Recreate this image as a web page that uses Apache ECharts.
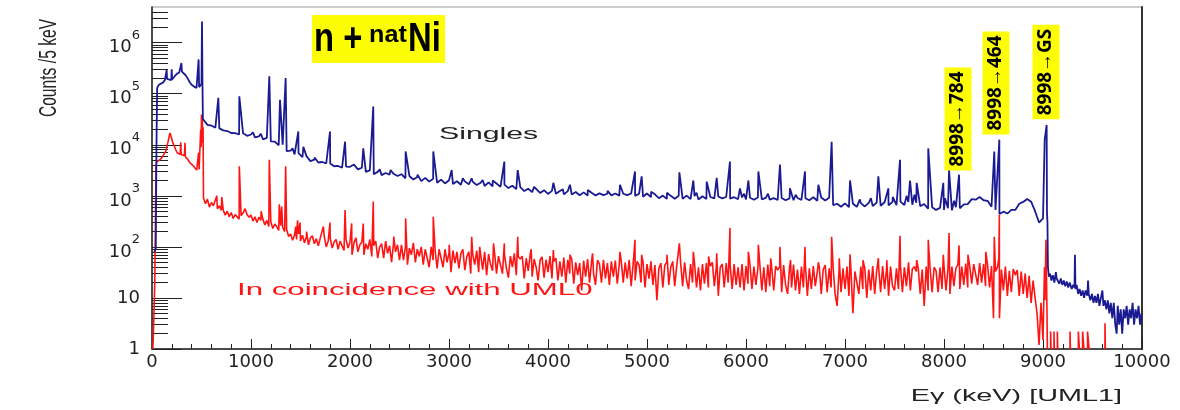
<!DOCTYPE html>
<html>
<head>
<meta charset="utf-8">
<title>n + natNi gamma spectrum</title>
<script src="https://cdn.jsdelivr.net/npm/echarts@6/dist/echarts.min.js"></script>
<style>
  html, body { margin: 0; padding: 0; background: #fff; }
  #chart { width: 1180px; height: 410px; }
</style>
</head>
<body>
<div id="chart"></div>
<script>
// energy axis, keV
const xMin = 0, xMax = 10000, xStep = 1000;
// counts axis (log)
const yMin = 1, yMax = 5e6;
const decadeTicks = [1, 10, 100, 1000, 10000, 100000, 1000000];
const minorTicks = [];
decadeTicks.forEach(d => {
    for (let m = 2; m <= 9; m++) {
        if (d * m < yMax) minorTicks.push(d * m);
    }
});

// ---- Singles (blue), counts / 5 keV ----
// low-energy part [E, counts]
const singlesHead = [
    [22, 80], [38, 90], [45, 9000], [52, 130000], [70, 150000], [90, 148000], [110, 165000], [130, 185000],
    [145, 200000], [148, 290000], [152, 195000], [170, 190000], [195, 185000], [199, 300000], [203, 190000],
    [225, 215000], [250, 245000], [275, 260000], [292, 265000], [297, 400000], [302, 270000], [320, 255000],
    [340, 230000], [360, 200000], [380, 170000], [400, 150000], [425, 138000], [450, 130000], [466, 132000],
    [471, 470000], [476, 135000], [490, 140000], [500, 155000], [505, 2600000], [510, 150000], [514, 32000]
];
// continuum from 520 keV every 40 keV
const singlesStartE = 520, singlesStep = 40;
const singlesCounts = [
    29500, 24500, 23800, 21600, 21000, 19200, 18600, 17000, 16900, 15900,
    16800, 15000, 15900, 13900, 14600, 12800, 13700, 11700, 11500, 9800,
    10000, 7500, 7700, 6500, 6900, 5700, 6000, 4800, 5100, 4500,
    4600, 4300, 4300, 3800, 3850, 3550, 3750, 3700, 4100, 3300,
    3550, 2950, 3150, 2650, 2950, 2550, 2800, 2600, 2700, 2450,
    2650, 2200, 2450, 2080, 2350, 1940, 2250, 1900, 2150, 1800,
    2080, 1750, 2020, 1700, 1930, 1650, 1920, 1680, 1880, 1630,
    1810, 1560, 1830, 1530, 1740, 1500, 1660, 1420, 1580, 1350,
    1480, 1240, 1380, 1180, 1370, 1140, 1290, 1090, 1250, 1100,
    1240, 1070, 1240, 1060, 1190, 1030, 1170, 1010, 1150, 1020,
    1120, 1030, 1100, 1020, 1110, 1010, 1100, 1030, 1110, 1000,
    1100, 960, 1110, 940, 1070, 900, 1010, 870, 1000, 880,
    1000, 870, 1010, 860, 990, 850, 980, 870, 950, 890,
    970, 890, 950, 880, 940, 860, 930, 850, 920, 840,
    930, 850, 910, 840, 900, 830, 910, 820, 890, 820,
    910, 830, 900, 820, 940, 800, 930, 810, 920, 660,
    700, 610, 710, 600, 700, 610, 720, 620, 730, 630,
    740, 640, 750, 650, 760, 660, 770, 660, 760, 670,
    730, 630, 690, 560, 600, 530, 580, 530, 570, 520,
    600, 570, 680, 690, 860, 840, 950, 820, 800, 610,
    530, 440, 490, 450, 530, 530, 700, 760, 870, 770,
    500, 300, 360, 480
];
// peaks sitting on the continuum [E, counts]
const singlesPeaks = [
    [670, 83000], [882, 89000], [1020, 17500], [1100, 16500], [1185, 219000], [1293, 76000], [1310, 76000],
    [1350, 204000], [1420, 8500], [1478, 18200], [1529, 9100], [1642, 5600], [1798, 18200], [1950, 11500],
    [2134, 8500], [2235, 56000], [2300, 3300], [2410, 3200], [2562, 7400], [2682, 2600], [2841, 7400],
    [3027, 3200], [3140, 2200], [3229, 2200], [3340, 2050], [3442, 2000], [3559, 4700], [3694, 3200],
    [3860, 1500], [4054, 1800], [4150, 1350], [4222, 1650], [4402, 1300], [4602, 1250], [4727, 1650],
    [4879, 3000], [4946, 2400], [5042, 1200], [5202, 1150], [5327, 2900], [5468, 2000], [5500, 1150],
    [5603, 1900], [5704, 2250], [5838, 4700], [5939, 1400], [5980, 1100], [6024, 2000], [6125, 3000],
    [6222, 1100], [6343, 4100], [6444, 1400], [6502, 1050], [6596, 3000], [6731, 1650], [6865, 11500],
    [7051, 2000], [7150, 850], [7262, 900], [7337, 2400], [7438, 1400], [7482, 950], [7556, 5100],
    [7622, 1000], [7657, 2000], [7702, 1050], [7724, 1800], [7841, 8500], [7993, 1800], [8010, 900],
    [8051, 3200], [8102, 800], [8152, 2600], [8508, 7400], [8559, 12600], [9017, 12600], [9037, 24500]
];
// above the 8998 keV line
const singlesTail = [
    [9045, 300], [9050, 40], [9060, 26], [9072, 30], [9085, 22], [9100, 28], [9115, 20], [9130, 32], [9138, 24],
    [9150, 26], [9165, 19], [9180, 24], [9195, 18], [9210, 22], [9225, 17], [9240, 21], [9255, 16], [9270, 20],
    [9290, 15], [9305, 18], [9318, 16], [9323, 70], [9328, 15], [9340, 18], [9355, 12], [9370, 15], [9385, 11],
    [9400, 14], [9415, 10], [9430, 14], [9448, 11], [9455, 22], [9462, 12], [9478, 9], [9495, 12], [9510, 8],
    [9525, 11], [9540, 8], [9555, 12], [9570, 7], [9585, 10], [9600, 14], [9610, 7], [9625, 9], [9640, 6],
    [9655, 9], [9670, 5], [9685, 8], [9700, 4], [9715, 8], [9730, 3], [9744, 2], [9755, 7], [9770, 3],
    [9785, 6], [9800, 2], [9815, 6], [9830, 4], [9845, 7], [9860, 3], [9875, 6], [9890, 4], [9905, 8],
    [9920, 3], [9935, 6], [9950, 4], [9965, 7], [9980, 3], [9995, 5]
];

// ---- In coincidence with UML0 (red) ----
const coincHead = [
    [8, 1], [14, 2], [20, 5], [28, 20], [34, 200], [40, 4000], [50, 4700], [65, 4300], [80, 5100], [100, 5600],
    [120, 6500], [140, 7500], [160, 11000], [175, 15000], [182, 17000], [195, 14000], [210, 11000], [225, 9500],
    [240, 8000], [255, 6900], [270, 7200], [285, 6500], [290, 11200], [295, 6400], [315, 6000], [328, 6200],
    [333, 11000], [338, 5800], [360, 5200], [384, 4400], [410, 4000], [430, 3600], [451, 3200], [466, 3300],
    [471, 7000], [476, 3300], [488, 3500], [492, 20000], [496, 9000], [500, 39000], [504, 14000], [508, 33000],
    [512, 11000], [516, 22000]
];
// continuum from 520 keV every 20 keV
const coincStartE = 520, coincStep = 20;
const coincCounts = [
    900, 700, 860, 600, 740, 640, 690, 560, 640, 520,
    520, 420, 500, 390, 470, 360, 430, 400, 350, 410,
    460, 560, 430, 380, 420, 320, 390, 300, 380, 330,
    350, 270, 330, 250, 310, 230, 280, 250, 210, 260,
    240, 200, 220, 160, 180, 135, 170, 140, 180, 130,
    170, 120, 160, 110, 150, 165, 115, 145, 105, 150,
    140, 160, 100, 130, 150, 95, 125, 140, 90, 130,
    130, 85, 140, 95, 125, 70, 120, 150, 80, 110,
    125, 70, 115, 90, 140, 65, 105, 130, 60, 100,
    115, 60, 130, 75, 105, 50, 120, 80, 110, 55,
    110, 55, 100, 45, 95, 70, 120, 50, 90, 65,
    100, 45, 90, 60, 40, 100, 55, 85, 38, 90,
    85, 40, 90, 50, 75, 32, 85, 48, 80, 38,
    75, 90, 35, 65, 80, 30, 70, 45, 85, 32,
    70, 36, 80, 28, 72, 45, 34, 78, 30, 66,
    62, 30, 72, 38, 25, 66, 40, 75, 28, 64,
    58, 66, 24, 60, 34, 70, 26, 58, 40, 22,
    55, 64, 25, 56, 32, 66, 24, 52, 60, 22,
    52, 26, 62, 20, 56, 30, 58, 19, 50, 28,
    48, 14, 54, 26, 58, 20, 52, 30, 18, 55,
    46, 20, 56, 24, 48, 18, 52, 26, 54, 19,
    46, 52, 20, 50, 24, 56, 17, 46, 22, 52,
    44, 20, 50, 16, 46, 24, 52, 18, 44, 9,
    38, 48, 16, 44, 50, 18, 40, 52, 17, 42,
    40, 48, 17, 50, 22, 15, 46, 20, 48, 16,
    40, 14, 46, 19, 48, 16, 42, 50, 17, 40,
    11, 40, 46, 16, 48, 20, 44, 15, 46, 18,
    40, 16, 46, 14, 42, 19, 46, 15, 41, 18,
    38, 44, 14, 40, 13, 45, 17, 39, 14, 42,
    35, 41, 13, 44, 18, 12, 40, 16, 45, 14,
    36, 12, 41, 16, 44, 11, 38, 15, 42, 17,
    32, 41, 12, 36, 44, 13, 38, 16, 40, 12,
    7, 35, 13, 38, 15, 41, 11, 36, 5, 33,
    35, 12, 41, 15, 38, 10, 36, 14, 42, 12,
    34, 40, 13, 42, 15, 37, 11, 41, 17, 14,
    38, 15, 42, 13, 40, 17, 45, 14, 37, 41,
    33, 38, 12, 36, 7, 41, 14, 37, 13, 40,
    34, 13, 40, 15, 42, 14, 37, 12, 41, 17,
    38, 45, 15, 41, 18, 47, 16, 42, 19, 46,
    44, 18, 48, 20, 46, 17, 45, 16, 42, 4,
    33, 40, 4, 36, 14, 41, 11, 34, 13, 37,
    28, 35, 11, 33, 12, 30, 10, 27, 8, 22,
    10, 5, 1.2, 8, 1.5, 9, 6
];
const coincPeaks = [
    [655, 1000], [705, 950], [882, 3800], [1102, 500], [1185, 5100], [1286, 680], [1310, 620], [1350, 3800],
    [1452, 250], [1470, 330], [1495, 300], [1562, 200], [1731, 250], [1798, 300], [1950, 525], [2017, 288],
    [2134, 288], [2235, 776], [2442, 160], [2562, 363], [2841, 390], [3002, 110], [3229, 158], [3310, 100],
    [3450, 117], [3559, 117], [3694, 158], [3830, 90], [4054, 87], [4222, 70], [4450, 75], [4727, 80],
    [4879, 138], [4946, 70], [5202, 70], [5327, 117], [5468, 80], [5622, 65], [5704, 75], [5838, 235],
    [6024, 80], [6125, 110], [6250, 60], [6343, 100], [6450, 55], [6596, 100], [6731, 50], [6865, 158],
    [6942, 60], [7051, 72], [7182, 55], [7337, 60], [7422, 55], [7556, 166], [7642, 50], [7724, 55],
    [7841, 138], [7993, 70], [8051, 186], [8152, 107], [8242, 70], [8422, 80], [8508, 158], [8554, 60],
    [8559, 427], [9015, 40], [9030, 138]
];
// above 9040 keV mostly empty bins (null), a few single counts
const coincTail = [
    [9044, 1], [9045, null],
    [9077, 1], [9077, 2.2], [9081, 2.2], [9081, 1], [9082, null],
    [9111, 1], [9111, 2.2], [9115, 2.2], [9115, 1], [9116, null],
    [9145, 1], [9145, 2.2], [9149, 2.2], [9149, 1], [9150, null],
    [9273, 1], [9273, 2.2], [9277, 2.2], [9277, 1], [9278, null],
    [9357, 1], [9357, 2.2], [9368, 2.2], [9368, 1], [9369, null],
    [9400, 1], [9400, 2.2], [9414, 2.2], [9414, 1], [9415, null],
    [9450, 1], [9450, 2.2], [9466, 2.2], [9466, 1], [9467, null],
    [9626, 1], [9626, 3.2], [9630, 3.2], [9630, 1], [9631, null]
];

const transitionLabels = ['8998→784', '8998→464', '8998→GS'];

function buildSeries(head, startE, step, counts, peaks, tail) {
    let pts = counts.map((c, i) => [startE + i * step, c]).concat(peaks);
    pts.sort((a, b) => a[0] - b[0]);
    return head.concat(pts, tail);
}
const singles = buildSeries(singlesHead, singlesStartE, singlesStep, singlesCounts, singlesPeaks, singlesTail);
const coinc = buildSeries(coincHead, coincStartE, coincStep, coincCounts, coincPeaks, coincTail);

const axisFont = 'DejaVu Sans';
const axisColor = '#222';
const yellow = '#fdfd06';
const chart = echarts.init(document.getElementById('chart'));

function decadeLabel(v) {
    const k = Math.round(Math.log10(v));
    if (k === 0) return '1';
    if (k === 1) return '10';
    return '{b|10}{s|' + k + '}';
}

chart.setOption({
    animation: false,
    grid: { left: 152, right: 38, top: 7, bottom: 61, show: true, borderColor: '#999', borderWidth: 1 },
    xAxis: {
        type: 'value', min: xMin, max: xMax, interval: xStep,
        axisLine: { lineStyle: { color: axisColor, width: 1.5 } },
        axisTick: { inside: true, length: 10, lineStyle: { color: axisColor, width: 1 } },
        minorTick: { show: true, splitNumber: 5, length: 5, lineStyle: { color: axisColor, width: 1 } },
        splitLine: { show: false },
        axisLabel: { margin: 4, fontFamily: axisFont, fontSize: 18, color: axisColor, formatter: v => String(v) }
    },
    yAxis: [
        {
            type: 'log', logBase: 10, min: yMin, max: yMax, position: 'left',
            axisLine: { show: true, lineStyle: { color: axisColor, width: 1.5 } },
            axisTick: { show: true, inside: true, length: 30, customValues: decadeTicks, lineStyle: { color: axisColor } },
            axisLabel: {
                customValues: decadeTicks, margin: 12, formatter: decadeLabel,
                fontFamily: axisFont, fontSize: 18, color: axisColor,
                rich: {
                    b: { fontFamily: axisFont, fontSize: 18, color: axisColor, lineHeight: 28, verticalAlign: 'bottom' },
                    s: { fontFamily: axisFont, fontSize: 13, color: axisColor, lineHeight: 13, verticalAlign: 'top' }
                }
            },
            splitLine: { show: false }
        },
        {
            type: 'log', logBase: 10, min: yMin, max: yMax, position: 'left',
            axisLine: { show: false },
            axisTick: { show: true, inside: true, length: 16, customValues: minorTicks, lineStyle: { color: axisColor } },
            axisLabel: { show: false },
            splitLine: { show: false }
        },
        {
            type: 'log', logBase: 10, min: yMin, max: yMax, position: 'right',
            axisLine: { show: true, lineStyle: { color: '#333', width: 2 } },
            axisTick: { show: false }, axisLabel: { show: false }, splitLine: { show: false }
        }
    ],
    series: [
        {
            name: 'Singles', type: 'line', data: singles, symbol: 'none', showSymbol: false,
            lineStyle: { color: '#1a1a92', width: 1.8 }, z: 3
        },
        {
            name: 'In coincidence with UML0', type: 'line', data: coinc, symbol: 'none', showSymbol: false,
            connectNulls: false, lineStyle: { color: '#ff1414', width: 1.6 }, z: 2
        }
    ],
    graphic: [
        // reaction title
        { type: 'rect', shape: { x: 312, y: 15, width: 133, height: 48 }, style: { fill: yellow }, z: 10 },
        { type: 'text', x: 314, y: 40, scaleX: 0.82, z: 11,
          style: { text: 'n +', fontSize: 40, fontWeight: 'bold', fontFamily: 'Liberation Sans', fill: '#000', verticalAlign: 'middle' } },
        { type: 'text', x: 369, y: 35, scaleX: 1.05, z: 11,
          style: { text: 'nat', fontSize: 24, fontWeight: 'bold', fontFamily: 'Liberation Sans', fill: '#000', verticalAlign: 'middle' } },
        { type: 'text', x: 408, y: 40, scaleX: 0.82, z: 11,
          style: { text: 'Ni', fontSize: 40, fontWeight: 'bold', fontFamily: 'Liberation Sans', fill: '#000', verticalAlign: 'middle' } },
        // series labels
        { type: 'text', x: 439, y: 134, scaleX: 1.78, z: 11,
          style: { text: 'Singles', fontSize: 17, fontFamily: 'Liberation Sans', fill: '#222', verticalAlign: 'middle' } },
        { type: 'text', x: 237, y: 291, scaleX: 1.95, z: 11,
          style: { text: 'In coincidence with UML0', fontSize: 16, fontFamily: 'Liberation Sans', fill: '#ff1414', verticalAlign: 'middle' } },
        // transition labels
        { type: 'text', x: 958, y: 119, rotation: Math.PI / 2, z: 11,
          style: { text: transitionLabels[0], fontSize: 19, fontWeight: 'bold', fontFamily: 'Open Sans', fill: '#000',
                   align: 'center', verticalAlign: 'middle', backgroundColor: yellow, padding: [4, 4] } },
        { type: 'text', x: 996, y: 83, rotation: Math.PI / 2, z: 11,
          style: { text: transitionLabels[1], fontSize: 19, fontWeight: 'bold', fontFamily: 'Open Sans', fill: '#000',
                   align: 'center', verticalAlign: 'middle', backgroundColor: yellow, padding: [4, 4] } },
        { type: 'text', x: 1046, y: 72, rotation: Math.PI / 2, z: 11,
          style: { text: transitionLabels[2], fontSize: 19, fontWeight: 'bold', fontFamily: 'Open Sans', fill: '#000',
                   align: 'center', verticalAlign: 'middle', backgroundColor: yellow, padding: [4, 4] } },
        // axis titles
        { type: 'text', x: 50, y: 68, rotation: Math.PI / 2, scaleX: 0.68, z: 11,
          style: { text: 'Counts /5 keV', fontSize: 23, fontFamily: 'Liberation Sans', fill: '#222', align: 'center', verticalAlign: 'middle' } },
        { type: 'text', x: 1122, y: 397, scaleX: 1.8, z: 11,
          style: { text: 'Eγ (keV) [UML1]', fontSize: 16, fontFamily: 'Liberation Sans', fill: '#222', align: 'right', verticalAlign: 'middle' } }
    ]
});
</script>
</body>
</html>
